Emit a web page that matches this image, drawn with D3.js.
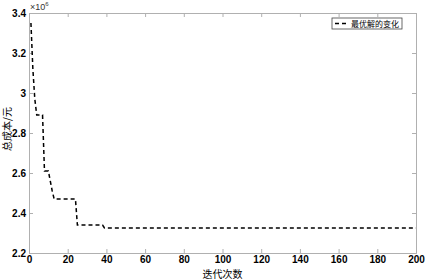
<!DOCTYPE html>
<html>
<head>
<meta charset="utf-8">
<script src="https://cdn.jsdelivr.net/npm/d3@7"></script>
<style>
  body { margin: 0; background: #fff; }
  text { font-family: "Liberation Sans", Arial, sans-serif; }
</style>
</head>
<body>
<div id="chart"></div>
<script>
// 迭代次数 / 总成本 (x10^6) at the points where the best value changes
const iterations = [1, 2, 3, 4, 7, 8, 10, 11, 12, 13, 24, 25, 38, 39, 200];
const costs = [3.35, 3.12, 2.97, 2.89, 2.89, 2.61, 2.61, 2.56, 2.51, 2.47, 2.47, 2.34, 2.34, 2.325, 2.325];
const xTicks = [0, 20, 40, 60, 80, 100, 120, 140, 160, 180, 200];
const yTicks = [2.2, 2.4, 2.6, 2.8, 3, 3.2, 3.4];
const seriesName = "最优解的变化";

const width = 425, height = 279;
const margin = { left: 29, right: 9, top: 13, bottom: 26 };

const svg = d3.select("#chart").append("svg")
    .attr("width", width)
    .attr("height", height);

const x = d3.scaleLinear().domain([0, 200]).range([margin.left, width - margin.right]);
const y = d3.scaleLinear().domain([2.2, 3.4]).range([height - margin.bottom, margin.top]);

const axisColor = "#b0b0b0";

// bottom / left axes with inward ticks
const xAxis = svg.append("g")
    .attr("transform", `translate(0,${height - margin.bottom})`)
    .call(d3.axisBottom(x).tickValues(xTicks).tickSize(-4).tickPadding(3).tickFormat(d3.format("d")));
const xAxisTop = svg.append("g")
    .attr("transform", `translate(0,${margin.top})`)
    .call(d3.axisTop(x).tickValues(xTicks).tickSize(-4).tickFormat(""));
const yAxis = svg.append("g")
    .attr("transform", `translate(${margin.left},0)`)
    .call(d3.axisLeft(y).tickValues(yTicks).tickSize(-4).tickPadding(3).tickFormat(d => d3.format("~g")(d)));
const yAxisRight = svg.append("g")
    .attr("transform", `translate(${width - margin.right},0)`)
    .call(d3.axisRight(y).tickValues(yTicks).tickSize(-4).tickFormat(""));

[xAxis, xAxisTop, yAxis, yAxisRight].forEach(g => {
    g.select(".domain").attr("stroke", axisColor);
    g.selectAll(".tick line").attr("stroke", axisColor);
    g.selectAll(".tick text")
        .attr("fill", "#000")
        .style("font-size", "10px")
        .style("font-weight", "bold");
});

// x10^6 exponent
const expo = svg.append("text")
    .attr("x", margin.left + 1)
    .attr("y", 10)
    .style("font-size", "9px")
    .attr("fill", "#333");
expo.append("tspan").text("×10");
expo.append("tspan").attr("dy", -4).style("font-size", "6px").text("6");

// the series
const line = d3.line()
    .x((d, i) => x(iterations[i]))
    .y(d => y(d));

svg.append("path")
    .datum(costs)
    .attr("d", line)
    .attr("fill", "none")
    .attr("stroke", "#000")
    .attr("stroke-width", 1.5)
    .attr("stroke-dasharray", "4,3");

// axis titles
svg.append("text")
    .attr("x", (margin.left + width - margin.right) / 2)
    .attr("y", 277.5)
    .attr("text-anchor", "middle")
    .style("font-family", "Noto Sans CJK SC")
    .style("font-size", "10px")
    .text("迭代次数");

svg.append("text")
    .attr("transform", `translate(11,${(margin.top + height - margin.bottom) / 2 - 4}) rotate(-90)`)
    .attr("text-anchor", "middle")
    .style("font-family", "Noto Sans CJK SC")
    .style("font-size", "10px")
    .text("总成本/元");

// legend
const legend = svg.append("g").attr("transform", "translate(332,18)");
legend.append("rect")
    .attr("width", 70)
    .attr("height", 11)
    .attr("fill", "#fff")
    .attr("stroke", "#444")
    .attr("stroke-width", 0.8);
legend.append("line")
    .attr("x1", 3).attr("x2", 15)
    .attr("y1", 5.5).attr("y2", 5.5)
    .attr("stroke", "#000")
    .attr("stroke-width", 1.5)
    .attr("stroke-dasharray", "4,3");
legend.append("text")
    .attr("x", 19)
    .attr("y", 8.8)
    .style("font-family", "Noto Sans CJK SC")
    .style("font-size", "8px")
    .text(seriesName);
</script>
</body>
</html>
